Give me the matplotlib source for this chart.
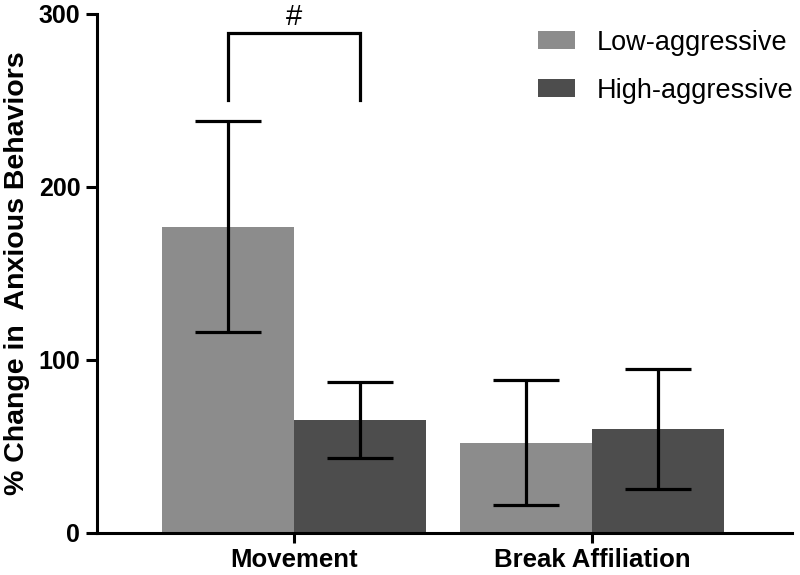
import matplotlib
matplotlib.use("Agg")
import matplotlib.pyplot as plt
import numpy as np

plt.rcParams['font.family'] = ['Liberation Sans', 'DejaVu Sans']

categories = ["Movement", "Break Affiliation"]
groups = ["Low-aggressive", "High-aggressive"]
means_low = [176.7, 52.1]
means_high = [65.3, 59.9]
upper_low = [238.0, 88.3]
lower_low = [116.0, 16.2]
upper_high = [87.4, 94.7]
lower_high = [43.5, 25.4]
yticks = [0, 100, 200, 300]
sig_label = "#"
sig_y = 289
sig_drop = 250

colors = ["#8c8c8c", "#4d4d4d"]

fig = plt.figure(figsize=(8, 5.75), dpi=100)
ax = fig.add_axes([97/800, 42/575, 695/800, 519.5/575])

x = np.arange(len(categories))
w = 0.443
pos_low = x - w/2
pos_high = x + w/2

ax.bar(pos_low, means_low, width=w, color=colors[0], label=groups[0], zorder=1)
ax.bar(pos_high, means_high, width=w, color=colors[1], label=groups[1], zorder=1)

for pos, m, up, lo in [(pos_low, means_low, upper_low, lower_low),
                       (pos_high, means_high, upper_high, lower_high)]:
    m = np.array(m); up = np.array(up); lo = np.array(lo)
    ax.errorbar(pos, m, yerr=[m - lo, up - m], fmt='none', ecolor='black',
                elinewidth=2.3, capsize=23.8, capthick=2.3, zorder=3)

# significance bracket
ax.plot([pos_low[0], pos_low[0], pos_high[0], pos_high[0]],
        [sig_drop, sig_y, sig_y, sig_drop], color='black', lw=2.3,
        clip_on=False, solid_joinstyle='miter', zorder=3)
ax.text(x[0], sig_y + 4.5, sig_label, ha='center', va='baseline', fontsize=21, clip_on=False)

ax.set_xlim(-0.661, 1.671)
ax.set_ylim(0, 300)
ax.set_yticks(yticks)
ax.set_yticklabels([str(t) for t in yticks], fontsize=18, fontweight='bold')
ax.set_xticks(x)
ax.set_xticklabels(categories, fontsize=18.5, fontweight='bold')
ax.tick_params(axis='y', length=8, width=2.2, direction='out', pad=4)
ax.tick_params(axis='x', length=7, width=2.2, direction='out', pad=3.5)

for s in ['top', 'right']:
    ax.spines[s].set_visible(False)
for s in ['left', 'bottom']:
    ax.spines[s].set_linewidth(2.2)

ax.set_ylabel("% Change in  Anxious Behaviors", fontsize=20.5, fontweight='bold', labelpad=6)

leg = ax.legend(loc='upper left', bbox_to_anchor=(538/800, 1 - 29.5/575),
                bbox_transform=fig.transFigure, frameon=False, fontsize=19.5,
                handlelength=1.37, handleheight=0.63, handletextpad=0.81,
                labelspacing=0.82, borderpad=0, borderaxespad=0)

fig.savefig("out.png", dpi=100)
